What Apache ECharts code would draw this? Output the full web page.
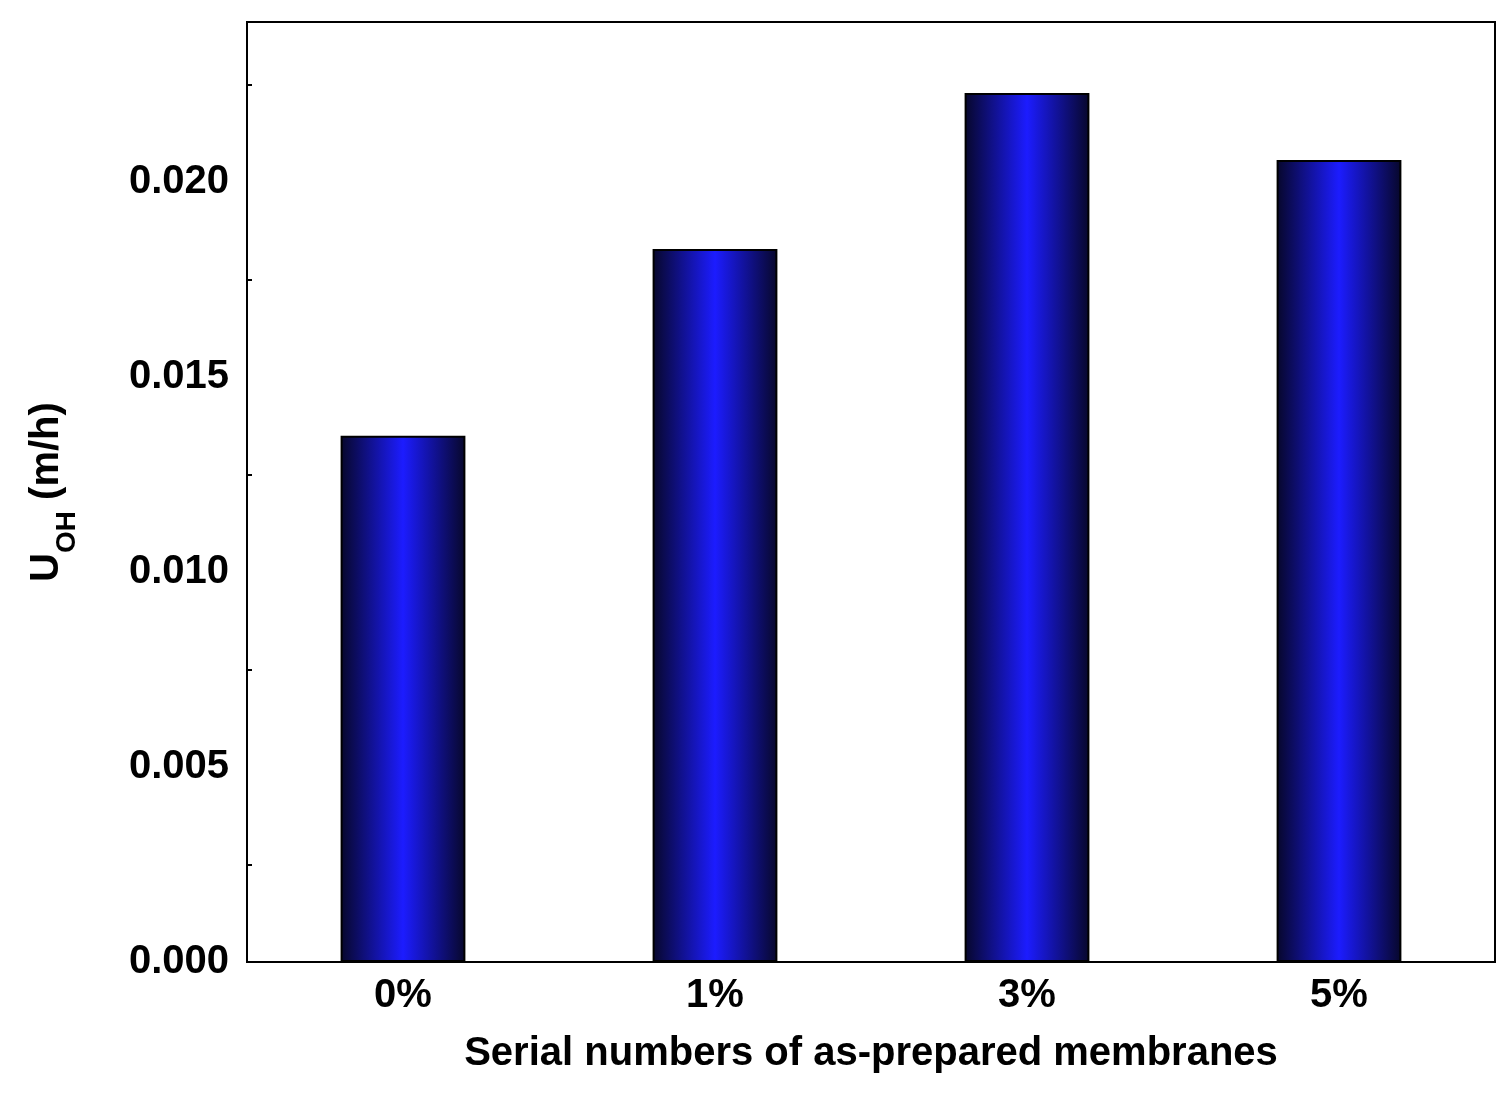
<!DOCTYPE html>
<html>
<head>
<meta charset="UTF-8">
<title>UOH bars</title>
<script src="https://cdn.jsdelivr.net/npm/echarts@6/dist/echarts.min.js"></script>
</head>
<body style="margin:0;background:#fff;">
<div id="bar" style="width:1510px;height:1102px;"></div>
<script>
var categories = ['0%', '1%', '3%', '5%'];
var uohValues = [0.01349, 0.01828, 0.02228, 0.02056];
var yTicks = [0, 0.005, 0.010, 0.015, 0.020];

var font = 'Liberation Sans';
var chart = echarts.init(document.getElementById('bar'), null, {renderer: 'canvas'});
var barColor = new echarts.graphic.LinearGradient(0, 0, 1, 0, [
    {offset: 0, color: '#07072a'},
    {offset: 0.5, color: '#1c1cff'},
    {offset: 1, color: '#07072a'}
]);
chart.setOption({
    animation: false,
    grid: {left: 247, right: 15, top: 22, bottom: 140, show: true, borderColor: '#000', borderWidth: 2},
    xAxis: {
        type: 'category',
        data: categories,
        name: 'Serial numbers of as-prepared membranes',
        nameLocation: 'middle',
        nameGap: 72,
        nameTextStyle: {fontFamily: font, fontWeight: 'bold', fontSize: 40, color: '#000'},
        axisLine: {lineStyle: {color: '#000', width: 2}},
        axisTick: {inside: true, length: 8, lineStyle: {color: '#000', width: 2}},
        axisLabel: {fontFamily: font, fontWeight: 'bold', fontSize: 40, color: '#000', margin: 14}
    },
    yAxis: {
        type: 'value',
        min: 0,
        max: 0.0241,
        interval: 0.005,
        name: '{u|U}{s|OH}{u| (m/h)}',
        nameLocation: 'middle',
        nameGap: 180,
        nameRotate: 90,
        nameTextStyle: {
            rich: {
                u: {fontFamily: font, fontWeight: 'bold', fontSize: 40, color: '#000'},
                s: {fontFamily: font, fontWeight: 'bold', fontSize: 28, color: '#000', verticalAlign: 'bottom', padding: [0, 0, -14, 0]}
            }
        },
        splitLine: {show: false},
        axisLine: {show: true, lineStyle: {color: '#000', width: 2}},
        axisTick: {inside: true, length: 9, lineStyle: {color: '#000', width: 2}},
        minorTick: {show: true, splitNumber: 2, length: 5, lineStyle: {color: '#000', width: 2}},
        axisLabel: {
            fontFamily: font, fontWeight: 'bold', fontSize: 40, color: '#000', margin: 18,
            showMaxLabel: false,
            formatter: function (v) { return v.toFixed(3); }
        }
    },
    series: [{
        type: 'bar',
        data: uohValues,
        barWidth: '40%',
        itemStyle: {color: barColor, borderColor: '#000', borderWidth: 2}
    }]
});
</script>
</body>
</html>
